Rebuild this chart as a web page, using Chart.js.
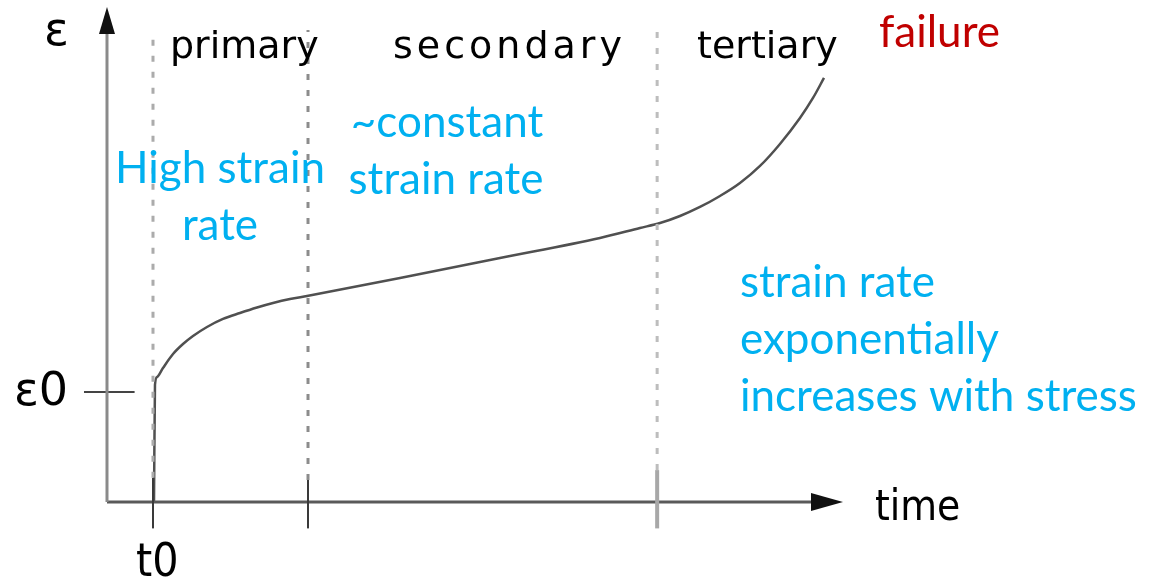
<!DOCTYPE html>
<html>
<head>
<meta charset="utf-8">
<script src="https://cdn.jsdelivr.net/npm/chart.js@4"></script>
<style>
  html, body { margin: 0; padding: 0; background: #fff; }
  #creep { display: block; }
</style>
</head>
<body>
<canvas id="creep" width="1159" height="579"></canvas>
<script>
// creep curve, strain vs time (arbitrary units, t0 = 1, eps0 = 1)
const curveTime   = [1.022, 1.043, 1.087, 1.217, 1.435, 1.652, 1.870, 2.174, 2.522, 2.891, 3.261, 3.609, 3.978, 4.348,
                     6.370, 8.543, 10.717, 11.587, 12.022, 12.457, 12.891, 13.326, 13.761, 14.196, 14.630, 15.065, 15.348, 15.587];
const curveStrain = [0.000, 1.064, 1.136, 1.218, 1.345, 1.436, 1.509, 1.591, 1.664, 1.718, 1.768, 1.809, 1.845, 1.873,
                     2.036, 2.218, 2.400, 2.491, 2.536, 2.600, 2.682, 2.782, 2.900, 3.055, 3.255, 3.491, 3.673, 3.855];

const phaseBounds = [1.0, 4.37, 11.96];       // t0, end of primary, end of secondary
const phaseNames  = ['primary', 'secondary', 'tertiary'];
const boundTop    = [4.27, 4.29, 4.29];        // top of dotted lines
const boundLow    = [0.22, 0.20, 0.29];        // where the solid tick starts
const tickBottom  = -0.24;
const eps0        = 1.0;
const timeAxisEnd = 16.0;
const strainAxisEnd = 4.5;

function pts(xs, ys) { return xs.map((x, i) => ({ x: x, y: ys[i] })); }

const datasets = [];

// dotted phase boundaries + solid ticks below
phaseBounds.forEach((t, i) => {
    const light = i === 2;
    datasets.push({
        data: pts([t, t], [boundLow[i], boundTop[i]]),
        borderColor: i === 1 ? '#8c8c8c' : (light ? '#bdbdbd' : '#ababab'),
        borderWidth: 3,
        borderDash: [6, 10],
        pointRadius: 0
    });
    datasets.push({
        data: pts([t, t], [tickBottom, boundLow[i]]),
        borderColor: light ? '#a8a8a8' : '#3a3a3a',
        borderWidth: light ? 4 : 2,
        pointRadius: 0
    });
});

// axes
datasets.push({ data: pts([0, 0], [0, strainAxisEnd - 0.2]), borderColor: '#8a8a8a', borderWidth: 3, pointRadius: 0 });
datasets.push({ data: pts([0, timeAxisEnd - 0.5], [0, 0]), borderColor: '#5a5a5a', borderWidth: 3, pointRadius: 0 });
// eps0 tick
datasets.push({ data: pts([-0.5, 0.6], [eps0, eps0]), borderColor: '#444', borderWidth: 2, pointRadius: 0 });

// the curve
datasets.push({
    data: pts(curveTime, curveStrain),
    borderColor: '#505050',
    borderWidth: 2.5,
    cubicInterpolationMode: 'monotone',
    pointRadius: 0
});

const decorPlugin = {
    id: 'decor',
    afterDatasetsDraw(chart) {
        const ctx = chart.ctx;
        const xs = chart.scales.x, ys = chart.scales.y;
        const ox = xs.getPixelForValue(0), oy = ys.getPixelForValue(0);
        const tipY = ys.getPixelForValue(strainAxisEnd);
        const tipX = xs.getPixelForValue(timeAxisEnd);
        ctx.save();
        ctx.fillStyle = '#111';
        // y arrow
        ctx.beginPath();
        ctx.moveTo(ox, tipY);
        ctx.lineTo(ox - 8, tipY + 27);
        ctx.lineTo(ox + 8, tipY + 27);
        ctx.closePath();
        ctx.fill();
        // x arrow
        ctx.beginPath();
        ctx.moveTo(tipX, oy);
        ctx.lineTo(tipX - 32, oy - 9);
        ctx.lineTo(tipX - 32, oy + 9);
        ctx.closePath();
        ctx.fill();

        // axis labels
        ctx.fillStyle = '#000';
        ctx.textBaseline = 'alphabetic';
        ctx.font = '46px "DejaVu Sans"';
        ctx.textAlign = 'left';
        ctx.fillText('ε', 44, 45);
        ctx.fillText('ε0', 14, 405);
        ctx.font = '46px "DejaVu Sans Condensed", "DejaVu Sans"';
        ctx.fillText('t0', 136, 576);
        ctx.font = '42px "DejaVu Sans Condensed", "DejaVu Sans"';
        ctx.fillText('time', 875, 520);

        // phase names
        ctx.font = '38px "DejaVu Sans"';
        const nameX = [170, 393, 697];
        const spacing = ['0px', '4px', '0px'];
        phaseNames.forEach((n, i) => {
            ctx.letterSpacing = spacing[i];
            ctx.fillText(n, nameX[i], 58);
        });
        ctx.letterSpacing = '0px';

        // annotations
        ctx.font = '44px Lato';
        ctx.fillStyle = '#C00000';
        ctx.fillText('failure', 879, 47);
        ctx.fillStyle = '#00B0F0';
        ctx.textAlign = 'center';
        ctx.fillText('High strain', 220, 183);
        ctx.fillText('rate', 220, 240);
        ctx.fillText('~constant', 447, 137);
        ctx.fillText('strain rate', 446, 194);
        ctx.textAlign = 'left';
        ctx.fillText('strain rate', 740, 297);
        ctx.fillText('exponentially', 740, 354);
        ctx.fillText('increases with stress', 740, 411);
        ctx.restore();
    }
};

new Chart(document.getElementById('creep'), {
    type: 'line',
    data: { datasets: datasets },
    options: {
        responsive: false,
        animation: false,
        layout: { padding: 0 },
        scales: {
            x: { type: 'linear', min: -2.326, max: 22.87, display: false },
            y: { type: 'linear', min: -0.70, max: 4.5636, display: false }
        },
        plugins: {
            legend: { display: false },
            tooltip: { enabled: false }
        }
    },
    plugins: [decorPlugin]
});
</script>
</body>
</html>
